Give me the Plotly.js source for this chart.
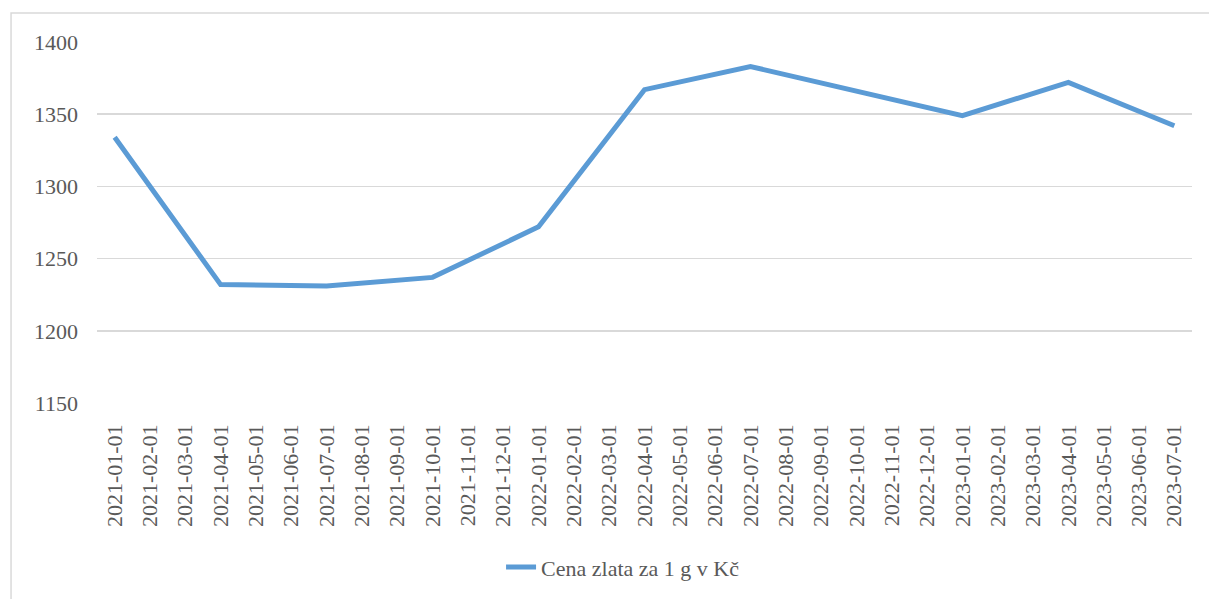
<!DOCTYPE html>
<html>
<head>
<meta charset="utf-8">
<script src="https://cdn.plot.ly/plotly-3.0.1.min.js"></script>
<style>html,body{margin:0;padding:0;background:#fff;}#chart{width:1209px;height:599px;}</style>
</head>
<body>
<div id="chart"></div>
<script>
const months = [
  "2021-01-01","2021-02-01","2021-03-01","2021-04-01","2021-05-01","2021-06-01",
  "2021-07-01","2021-08-01","2021-09-01","2021-10-01","2021-11-01","2021-12-01",
  "2022-01-01","2022-02-01","2022-03-01","2022-04-01","2022-05-01","2022-06-01",
  "2022-07-01","2022-08-01","2022-09-01","2022-10-01","2022-11-01","2022-12-01",
  "2023-01-01","2023-02-01","2023-03-01","2023-04-01","2023-05-01","2023-06-01",
  "2023-07-01"
];
// Quarterly observations (null = month without observation)
const goldPrice = [
  1334, null, null, 1232, null, null,
  1231, null, null, 1237, null, null,
  1272, null, null, 1367, null, null,
  1383, null, null, null, null, null,
  1349, null, null, 1372, null, null,
  1342
];
const seriesName = "Cena zlata za 1 g v Kč";
const yTicks = [1150, 1200, 1250, 1300, 1350, 1400];

const font = {family: "Liberation Serif, DejaVu Serif, serif", size: 22, color: "#595959"};

Plotly.newPlot("chart", [{
  x: months,
  y: goldPrice,
  type: "scatter",
  mode: "lines",
  connectgaps: true,
  name: seriesName,
  line: {color: "#5B9BD5", width: 5, shape: "linear"}
}], {
  width: 1209, height: 599,
  margin: {l: 97, r: 17, t: 42, b: 195},
  paper_bgcolor: "#ffffff",
  plot_bgcolor: "#ffffff",
  font: font,
  showlegend: true,
  legend: {
    orientation: "h",
    x: 0.369, xanchor: "left",
    y: -0.451, yanchor: "middle",
    font: font,
    bgcolor: "rgba(0,0,0,0)"
  },
  xaxis: {
    type: "category",
    categoryorder: "array",
    categoryarray: months,
    range: [-0.5, months.length - 0.5],
    tickmode: "array",
    tickvals: months,
    ticktext: months,
    tickangle: -90,
    showgrid: false,
    showline: false,
    zeroline: false,
    ticks: "",
    ticklabelstandoff: 16,
    tickfont: font,
    fixedrange: true
  },
  yaxis: {
    range: [1150, 1400],
    tickmode: "array",
    tickvals: yTicks,
    ticktext: yTicks.map(String),
    showgrid: true,
    gridcolor: "#d9d9d9",
    gridwidth: 1.5,
    zeroline: false,
    showline: false,
    ticks: "",
    ticklabelstandoff: 18,
    tickfont: font,
    fixedrange: true
  },
  shapes: [{
    type: "rect", xref: "paper", yref: "paper",
    x0: -0.0785, x1: 1.2, y0: -1, y1: 1.08,
    line: {color: "#d9d9d9", width: 1.5},
    fillcolor: "rgba(0,0,0,0)",
    layer: "below"
  }]
}, {displayModeBar: false, staticPlot: true});
</script>
</body>
</html>
